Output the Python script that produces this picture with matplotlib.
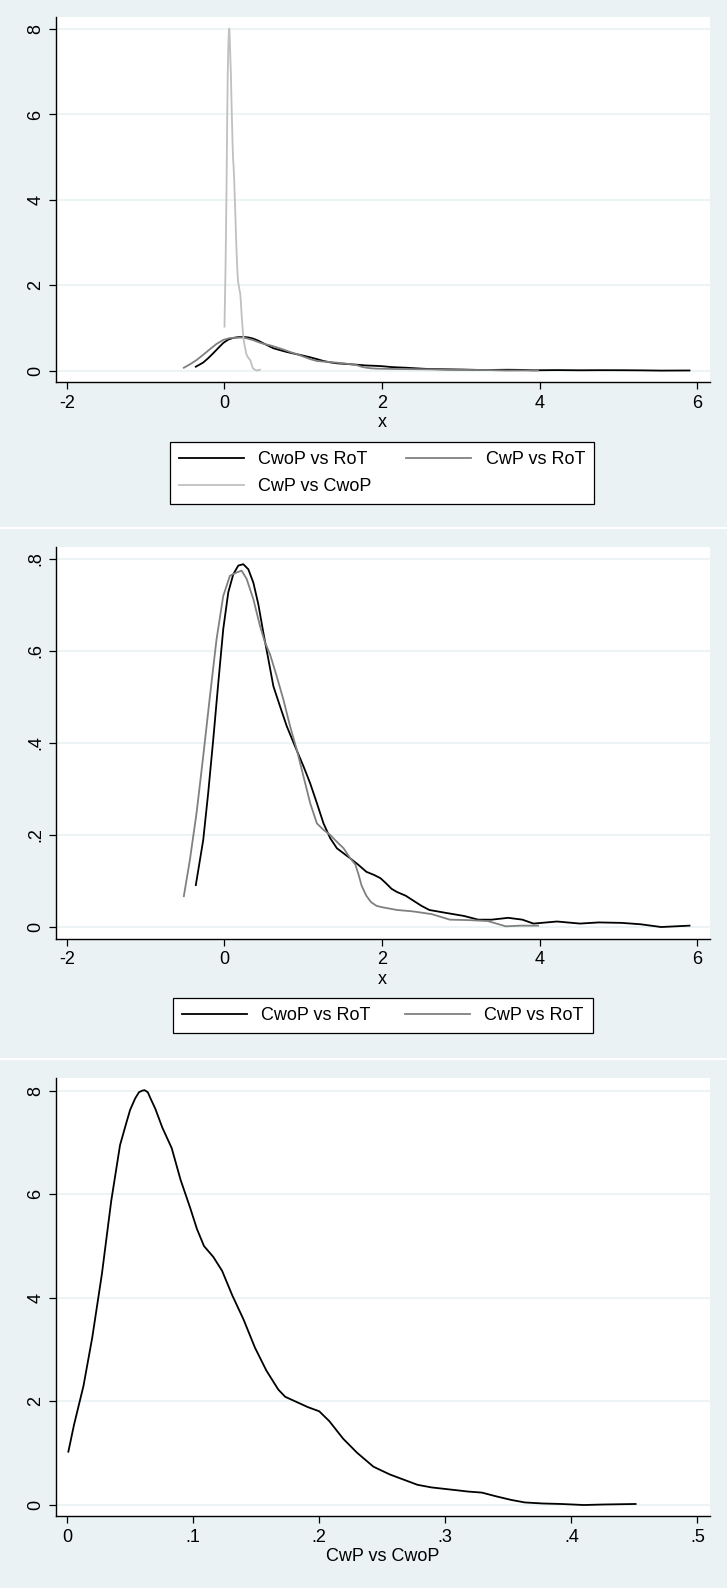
import matplotlib
matplotlib.use("Agg")
import matplotlib.pyplot as plt
from matplotlib.patches import Rectangle
from matplotlib.ticker import FuncFormatter

plt.rcParams["font.family"] = ["Liberation Sans", "DejaVu Sans"]

BG = "#eaf2f3"
GRID = "#eaf2f3"

# kernel density, CwoP vs RoT
cwop_rot_x = [-0.363, -0.269, -0.206, -0.142, -0.078, -0.015, 0.049, 0.112, 0.176, 0.239,
              0.303, 0.367, 0.430, 0.494, 0.558, 0.621, 0.706, 0.791, 0.897, 1.003, 1.088,
              1.173, 1.257, 1.342, 1.427, 1.512, 1.597, 1.7, 1.8, 1.9, 1.98, 2.05, 2.12,
              2.19, 2.3, 2.39, 2.5, 2.6, 2.8, 3.04, 3.22, 3.39, 3.6, 3.78, 3.92, 4.22,
              4.51, 4.75, 5.04, 5.28, 5.54, 5.9]
cwop_rot_y = [0.091, 0.189, 0.291, 0.407, 0.530, 0.647, 0.727, 0.766, 0.785, 0.788,
              0.777, 0.748, 0.701, 0.639, 0.581, 0.523, 0.479, 0.436, 0.392, 0.349, 0.312,
              0.269, 0.225, 0.193, 0.171, 0.160, 0.149, 0.135, 0.12, 0.113, 0.106, 0.095, 0.083,
              0.076, 0.068, 0.058, 0.046, 0.037, 0.031, 0.024, 0.016, 0.016, 0.02, 0.016, 0.0075,
              0.012, 0.0075, 0.01, 0.009, 0.006, 0.0, 0.003]

# kernel density, CwP vs RoT
cwp_rot_x = [-0.515, -0.439, -0.354, -0.269, -0.184, -0.100, -0.015, 0.070, 0.155, 0.218,
             0.282, 0.367, 0.451, 0.515, 0.579, 0.663, 0.748, 0.833, 0.918, 1.003, 1.088,
             1.173, 1.257, 1.342, 1.427, 1.512, 1.597, 1.66, 1.70, 1.74, 1.80, 1.86, 1.93,
             2.0, 2.19, 2.39, 2.63, 2.86, 3.1, 3.34, 3.57, 3.75, 3.98]
cwp_rot_y = [0.067, 0.145, 0.247, 0.371, 0.501, 0.625, 0.719, 0.763, 0.770, 0.774,
             0.756, 0.712, 0.654, 0.618, 0.592, 0.545, 0.494, 0.436, 0.385, 0.327, 0.269,
             0.225, 0.211, 0.200, 0.185, 0.171, 0.149, 0.136, 0.115, 0.09, 0.068, 0.054, 0.046,
             0.043, 0.037, 0.034, 0.028, 0.016, 0.015, 0.013, 0.0015, 0.003, 0.003]

# kernel density, CwP vs CwoP
cwp_cwop_x = [0.001, 0.0055, 0.013, 0.020, 0.0276, 0.035, 0.042, 0.047, 0.050, 0.054, 0.057,
              0.0595, 0.0615, 0.064, 0.066, 0.070, 0.0755, 0.083, 0.090, 0.0976, 0.103, 0.1086,
              0.116, 0.123, 0.131, 0.140, 0.149, 0.158, 0.1675, 0.173, 0.182, 0.191, 0.2, 0.208,
              0.219, 0.230, 0.243, 0.256, 0.267, 0.278, 0.289, 0.300, 0.311, 0.318, 0.329,
              0.340, 0.352, 0.363, 0.377, 0.392, 0.41, 0.425, 0.451]
cwp_cwop_y = [1.03, 1.55, 2.30, 3.24, 4.46, 5.87, 6.95, 7.38, 7.63, 7.85, 7.97,
              8.0, 8.01, 7.97, 7.86, 7.65, 7.29, 6.89, 6.28, 5.74, 5.33, 5.0,
              4.79, 4.52, 4.05, 3.58, 3.04, 2.60, 2.23, 2.09, 1.99, 1.89, 1.81, 1.62,
              1.28, 1.01, 0.74, 0.59, 0.49, 0.39, 0.34, 0.31, 0.28, 0.26, 0.24,
              0.17, 0.10, 0.05, 0.03, 0.02, 0.0, 0.01, 0.02]

labels = ["CwoP vs RoT", "CwP vs RoT", "CwP vs CwoP"]
colors = ["black", "#808080", "#c0c0c0"]

W, H = 727, 1588
fig = plt.figure(figsize=(W / 100, H / 100), dpi=100)
fig.patch.set_facecolor("white")

# panel backgrounds (pixel rows from top)
for top, bot in [(0, 527), (529, 1058), (1060, 1588)]:
    fig.patches.append(Rectangle((0, 1 - bot / H), 1, (bot - top) / H,
                                 transform=fig.transFigure, facecolor=BG,
                                 edgecolor="none", zorder=-10))


def stata_fmt(v, pos):
    s = f"{v:g}"
    if s.startswith("0."):
        s = s[1:]
    elif s.startswith("-0."):
        s = "-" + s[2:]
    return s


def style(ax, yticks, xticks):
    ax.set_facecolor("white")
    for s in ["top", "right"]:
        ax.spines[s].set_visible(False)
    for s in ["left", "bottom"]:
        ax.spines[s].set_color("black")
        ax.spines[s].set_linewidth(1.0)
    ax.set_yticks(yticks)
    ax.set_xticks(xticks)
    ax.yaxis.set_major_formatter(FuncFormatter(stata_fmt))
    ax.xaxis.set_major_formatter(FuncFormatter(stata_fmt))
    ax.tick_params(axis="both", direction="out", length=5, width=0.9, labelsize=13,
                   color="black", labelcolor="black")
    ax.tick_params(axis="y", pad=3)
    ax.tick_params(axis="x", pad=4)
    for lab in ax.get_yticklabels():
        lab.set_rotation(90)
        lab.set_va("center")
    ax.grid(axis="y", color=GRID, linewidth=1.2)
    ax.set_axisbelow(True)


def axes_px(top, bot):
    return fig.add_axes([55.5 / W, 1 - bot / H, 654.5 / W, (bot - top) / H])


leg_kw = dict(fontsize=13, ncol=2, handlelength=3.6, handletextpad=0.8,
              columnspacing=1.9, borderpad=0.5, labelspacing=0.55, borderaxespad=0,
              fancybox=False, framealpha=1, edgecolor="black")

# panel 1
ax1 = axes_px(16.7, 382)
l1, = ax1.plot(cwop_rot_x, cwop_rot_y, color=colors[0], lw=1.3)
l2, = ax1.plot(cwp_rot_x, cwp_rot_y, color=colors[1], lw=1.3)
l3, = ax1.plot(cwp_cwop_x, cwp_cwop_y, color=colors[2], lw=1.3)
ax1.set_xlim(-2.143, 6.16)
ax1.set_ylim(-0.267, 8.29)
style(ax1, [0, 2, 4, 6, 8], [-2, 0, 2, 4, 6])
ax1.set_xlabel("x", fontsize=13, labelpad=2)
# legend fills column-wise, so reorder to get Stata's row-wise layout
lg1 = fig.legend([l1, l3, l2], [labels[0], labels[2], labels[1]], loc="upper center",
                 bbox_to_anchor=(382 / W, 1 - 442 / H), **leg_kw)
lg1.get_frame().set_linewidth(0.9)

# panel 2
ax2 = axes_px(546.7, 939)
m1, = ax2.plot(cwop_rot_x, cwop_rot_y, color=colors[0], lw=1.3)
m2, = ax2.plot(cwp_rot_x, cwp_rot_y, color=colors[1], lw=1.3)
ax2.set_xlim(-2.143, 6.16)
ax2.set_ylim(-0.026, 0.826)
style(ax2, [0, 0.2, 0.4, 0.6, 0.8], [-2, 0, 2, 4, 6])
ax2.set_xlabel("x", fontsize=13, labelpad=2)
lg2 = fig.legend([m1, m2], labels[:2], loc="upper center",
                 bbox_to_anchor=(382.5 / W, 1 - 998 / H), **leg_kw)
lg2.get_frame().set_linewidth(0.9)

# panel 3
ax3 = axes_px(1078, 1516)
ax3.plot(cwp_cwop_x, cwp_cwop_y, color="black", lw=1.3)
ax3.set_xlim(-0.0092, 0.51)
ax3.set_ylim(-0.212, 8.245)
style(ax3, [0, 2, 4, 6, 8], [0, 0.1, 0.2, 0.3, 0.4, 0.5])
ax3.set_xlabel("CwP vs CwoP", fontsize=13, labelpad=2)

fig.savefig("out.png", dpi=100, facecolor=fig.get_facecolor())
